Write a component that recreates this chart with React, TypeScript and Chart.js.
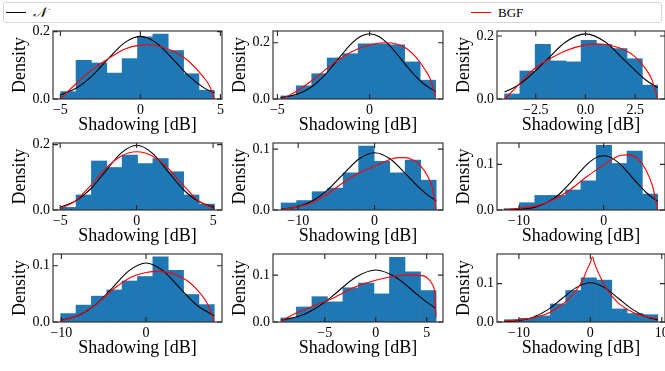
import React, { useEffect, useRef } from "react";
import { Chart, registerables } from "chart.js";
Chart.register(...registerables);

// ---------- data ----------
// Panel 1
const p1Edges = [-4.98, -4.02, -3.06, -2.1, -1.14, -0.18, 0.78, 1.74, 2.7, 3.66, 4.62];
const p1Hist = [0.022, 0.115, 0.107, 0.077, 0.12, 0.185, 0.193, 0.144, 0.075, 0.026];
const p1NormX = [-4.98, -4, -3, -2, -1, 0, 1, 2, 3, 4, 4.62];
const p1NormY = [0.0124, 0.0324, 0.0696, 0.1202, 0.1668, 0.186, 0.1668, 0.1202, 0.0696, 0.0324, 0.0181];
const p1BgfX = [-4.98, -4.5, -4, -3, -2, -1, 0, 0.5, 1, 2, 3, 4, 4.35, 4.62];
const p1BgfY = [0, 0.024, 0.046, 0.088, 0.12, 0.148, 0.16, 0.161, 0.158, 0.143, 0.113, 0.062, 0.036, 0];
const p1XTicks = [-5, 0, 5];
const p1XLabels = ["−5", "0", "5"];

// Panel 2
const p2Edges = [-4.82, -3.98, -3.14, -2.3, -1.46, -0.62, 0.22, 1.06, 1.9, 2.74, 3.58];
const p2Hist = [0.011, 0.047, 0.09, 0.146, 0.161, 0.196, 0.196, 0.193, 0.132, 0.067];
const p2NormX = [-4.82, -4, -3.5, -3, -2.5, -2, -1.5, -1, -0.5, 0, 0.5, 1, 1.5, 2, 2.5, 3, 3.58];
const p2NormY = [0.0046, 0.0155, 0.0293, 0.0507, 0.0807, 0.118, 0.1586, 0.196, 0.2224, 0.232, 0.2224, 0.196, 0.1586, 0.118, 0.0807, 0.0507, 0.0266];
const p2BgfX = [-4.82, -4.4, -4, -3, -2, -1, 0, 0.8, 1.5, 2, 2.5, 3, 3.3, 3.58];
const p2BgfY = [0, 0.012, 0.026, 0.072, 0.125, 0.167, 0.192, 0.2, 0.195, 0.18, 0.15, 0.105, 0.07, 0.008];
const p2XTicks = [-5, 0];
const p2XLabels = ["−5", "0"];

// Panel 3
const p3Edges = [-4.07, -3.3, -2.53, -1.76, -0.99, -0.22, 0.55, 1.32, 2.09, 2.86, 3.63];
const p3Hist = [0.016, 0.089, 0.174, 0.121, 0.118, 0.186, 0.174, 0.16, 0.128, 0.044];
const p3NormX = [-4.07, -3.5, -3, -2, -1, 0, 1, 2, 3, 3.63];
const p3NormY = [0.0224, 0.04, 0.0619, 0.121, 0.181, 0.207, 0.181, 0.121, 0.0619, 0.0353];
const p3BgfX = [-4.07, -3.5, -3, -2.5, -2, -1, 0, 0.5, 1, 2, 2.5, 3, 3.35, 3.63];
const p3BgfY = [0, 0.036, 0.07, 0.1, 0.12, 0.153, 0.172, 0.175, 0.173, 0.155, 0.134, 0.098, 0.06, 0];
const p3XTicks = [-2.5, 0, 2.5];
const p3XLabels = ["−2.5", "0.0", "2.5"];

// Panel 4
const p4Edges = [-4.97, -3.96, -2.96, -1.95, -0.95, 0.06, 1.06, 2.07, 3.07, 4.08, 5.08];
const p4Hist = [0.008, 0.046, 0.15, 0.13, 0.168, 0.142, 0.157, 0.117, 0.046, 0.018];
const p4NormX = [-4.97, -4, -3, -2, -1, 0, 1, 2, 3, 4, 5.08];
const p4NormY = [0.0093, 0.0273, 0.065, 0.1207, 0.175, 0.198, 0.175, 0.1207, 0.065, 0.0273, 0.0082];
const p4BgfX = [-4.97, -4, -3, -2, -1, 0, 1, 2, 3, 4, 5.08];
const p4BgfY = [0.004, 0.028, 0.075, 0.128, 0.165, 0.178, 0.166, 0.13, 0.078, 0.03, 0.004];
const p4XTicks = [-5, 0, 5];
const p4XLabels = ["−5", "0", "5"];

// Panel 5
const p5Edges = [-12.24, -10.21, -8.18, -6.15, -4.12, -2.09, -0.06, 1.97, 4.0, 6.03, 8.06];
const p5Hist = [0.0116, 0.0155, 0.03, 0.036, 0.061, 0.105, 0.08, 0.061, 0.082, 0.049];
const p5NormX = [-12.24, -11, -10, -8, -6, -4, -2, 0, 2, 4, 6, 7, 8.06];
const p5NormY = [0.0015, 0.0033, 0.0058, 0.0159, 0.0346, 0.0603, 0.0841, 0.094, 0.0841, 0.0603, 0.0346, 0.0241, 0.0154];
const p5BgfX = [-12.24, -10, -8, -6, -4, -2, 0, 2, 3, 4, 5, 6, 7, 7.6, 8.06];
const p5BgfY = [0.001, 0.0055, 0.0127, 0.0276, 0.046, 0.061, 0.072, 0.083, 0.086, 0.086, 0.082, 0.073, 0.054, 0.035, 0];
const p5XTicks = [-10, 0];
const p5XLabels = ["−10", "0"];

// Panel 6
const p6Edges = [-11.76, -9.95, -8.13, -6.32, -4.5, -2.69, -0.87, 0.94, 2.76, 4.57, 6.39];
const p6Hist = [0.003, 0.016, 0.032, 0.032, 0.044, 0.064, 0.142, 0.102, 0.129, 0.035];
const p6NormX = [-11.76, -10, -8, -6, -5, -4, -3, -2, -1, 0, 1, 2, 3, 4, 5, 6, 6.39];
const p6NormY = [0.0003, 0.0014, 0.0068, 0.0239, 0.039, 0.0583, 0.0796, 0.0995, 0.1138, 0.119, 0.1138, 0.0995, 0.0796, 0.0583, 0.039, 0.0239, 0.0192];
const p6BgfX = [-11.76, -10, -8, -6, -4, -2, 0, 1, 2, 3, 4, 5, 5.8, 6.39];
const p6BgfY = [0, 0.004, 0.009, 0.022, 0.044, 0.073, 0.099, 0.111, 0.12, 0.121, 0.113, 0.088, 0.051, 0];
const p6XTicks = [-10, 0];
const p6XLabels = ["−10", "0"];

// Panel 7
const p7Edges = [-10.08, -8.27, -6.45, -4.64, -2.82, -1.01, 0.81, 2.62, 4.44, 6.25, 8.07];
const p7Hist = [0.015, 0.03, 0.046, 0.057, 0.073, 0.081, 0.116, 0.092, 0.049, 0.031];
const p7NormX = [-10.08, -8, -6, -4, -2, 0, 2, 4, 6, 8.07];
const p7NormY = [0.0031, 0.0115, 0.0302, 0.0604, 0.0914, 0.105, 0.0914, 0.0604, 0.0302, 0.011];
const p7BgfX = [-10.08, -8, -6, -4, -2, 0, 1.5, 3, 4, 5, 6, 7, 7.6, 8.07];
const p7BgfY = [0.002, 0.012, 0.03, 0.057, 0.078, 0.088, 0.09, 0.087, 0.081, 0.072, 0.058, 0.039, 0.021, 0];
const p7XTicks = [-10, 0];
const p7XLabels = ["−10", "0"];

// Panel 8
const p8Edges = [-9.31, -7.79, -6.26, -4.74, -3.22, -1.7, -0.17, 1.35, 2.87, 4.4, 5.92];
const p8Hist = [0.0087, 0.032, 0.054, 0.043, 0.073, 0.083, 0.06, 0.138, 0.107, 0.067];
const p8NormX = [-9.31, -8, -7, -6, -5, -4, -2, 0, 2, 4, 5, 5.92];
const p8NormY = [0.0039, 0.0094, 0.0167, 0.0276, 0.0423, 0.0598, 0.0951, 0.111, 0.0951, 0.0598, 0.0423, 0.029];
const p8BgfX = [-9.31, -8, -6, -4, -2, 0, 2, 3, 4, 5, 5.5, 5.8, 5.92];
const p8BgfY = [0.0015, 0.017, 0.035, 0.053, 0.075, 0.089, 0.098, 0.1, 0.1, 0.095, 0.082, 0.06, 0.01];
const p8XTicks = [-5, 0, 5];
const p8XLabels = ["−5", "0", "5"];

// Panel 9
const p9Edges = [-12.05, -9.9, -7.75, -5.6, -3.45, -1.3, 0.85, 3.0, 5.15, 7.3, 9.44];
const p9Hist = [0.006, 0.0097, 0.016, 0.047, 0.082, 0.115, 0.109, 0.034, 0.022, 0.019];
const p9NormX = [-12.05, -10, -8, -6, -4, -2, 0, 2, 4, 6, 8, 9.44];
const p9NormY = [0.0009, 0.0039, 0.0126, 0.0315, 0.0605, 0.0895, 0.102, 0.0895, 0.0605, 0.0315, 0.0126, 0.0055];
const p9BgfX = [-12.05, -10, -8, -6, -4, -3, -2, -1, -0.5, 0, 0.3, 0.6, 1, 1.5, 2, 3, 4, 6, 8, 9.44];
const p9BgfY = [0.003, 0.0055, 0.011, 0.022, 0.045, 0.06, 0.082, 0.112, 0.135, 0.155, 0.169, 0.152, 0.133, 0.113, 0.095, 0.068, 0.048, 0.025, 0.013, 0.009];
const p9XTicks = [-10, 0, 10];
const p9XLabels = ["−10", "0", "10"];

// axis limits and y ticks
const xLimits: [number, number][] = [
  [-5.46, 5.1], [-5.24, 3.98], [-4.45, 4.0],
  [-5.47, 5.58], [-13.3, 8.95], [-12.6, 7.25],
  [-10.99, 8.98], [-10.08, 6.6], [-13.07, 10.45],
];
const yMaxes = [0.202, 0.242, 0.216, 0.205, 0.11, 0.147, 0.121, 0.145, 0.177];
const yTicksWide = [0, 0.2];
const yLabelsWide = ["0.0", "0.2"];
const yTicksNarrow = [0, 0.1];
const yLabelsNarrow = ["0.0", "0.1"];

const xTitle = "Shadowing [dB]";
const yTitle = "Density";
const legendNormal = "𝒩";
const legendBgf = "BGF";

// ---------- layout ----------
const FONT = "'Liberation Serif', 'DejaVu Serif', serif";
const COLS = [
  { left: 53, right: 222 },
  { left: 273, right: 443 },
  { left: 497, right: 665 },
];
const ROWS = [
  { top: 31, bottom: 99 },
  { top: 143, bottom: 210 },
  { top: 254, bottom: 322 },
];
const Y_AREA = 45;
const PAD_TOP = 10;
const X_AREA = 40;
const PAD_RIGHT = 14;
const TICK = 5;

type Panel = {
  edges: number[]; hist: number[];
  nx: number[]; ny: number[]; bx: number[]; by: number[];
  xt: number[]; xl: string[]; yt: number[]; yl: string[];
  xlim: [number, number]; ymax: number;
};

const raw = [
  [p1Edges, p1Hist, p1NormX, p1NormY, p1BgfX, p1BgfY, p1XTicks, p1XLabels],
  [p2Edges, p2Hist, p2NormX, p2NormY, p2BgfX, p2BgfY, p2XTicks, p2XLabels],
  [p3Edges, p3Hist, p3NormX, p3NormY, p3BgfX, p3BgfY, p3XTicks, p3XLabels],
  [p4Edges, p4Hist, p4NormX, p4NormY, p4BgfX, p4BgfY, p4XTicks, p4XLabels],
  [p5Edges, p5Hist, p5NormX, p5NormY, p5BgfX, p5BgfY, p5XTicks, p5XLabels],
  [p6Edges, p6Hist, p6NormX, p6NormY, p6BgfX, p6BgfY, p6XTicks, p6XLabels],
  [p7Edges, p7Hist, p7NormX, p7NormY, p7BgfX, p7BgfY, p7XTicks, p7XLabels],
  [p8Edges, p8Hist, p8NormX, p8NormY, p8BgfX, p8BgfY, p8XTicks, p8XLabels],
  [p9Edges, p9Hist, p9NormX, p9NormY, p9BgfX, p9BgfY, p9XTicks, p9XLabels],
] as any[];

const panels: Panel[] = raw.map((r, i) => {
  const wide = yMaxes[i] > 0.19;
  return {
    edges: r[0], hist: r[1], nx: r[2], ny: r[3], bx: r[4], by: r[5],
    xt: r[6], xl: r[7],
    yt: wide ? yTicksWide : yTicksNarrow,
    yl: wide ? yLabelsWide : yLabelsNarrow,
    xlim: xLimits[i], ymax: yMaxes[i],
  };
});

const framePlugin = {
  id: "frame",
  afterDatasetsDraw(chart: any) {
    const { ctx, chartArea: a, scales } = chart;
    const xs = scales.x, ys = scales.y;
    ctx.save();
    ctx.strokeStyle = "#262626";
    ctx.lineWidth = 1.1;
    ctx.strokeRect(a.left, a.top, a.right - a.left, a.bottom - a.top);
    ctx.beginPath();
    xs.ticks.forEach((t: any) => {
      const px = xs.getPixelForValue(t.value);
      ctx.moveTo(px, a.bottom); ctx.lineTo(px, a.bottom - TICK);
      ctx.moveTo(px, a.top); ctx.lineTo(px, a.top + TICK);
    });
    ys.ticks.forEach((t: any) => {
      const py = ys.getPixelForValue(t.value);
      ctx.moveTo(a.left, py); ctx.lineTo(a.left + TICK, py);
      ctx.moveTo(a.right, py); ctx.lineTo(a.right - TICK, py);
    });
    ctx.stroke();
    ctx.restore();
  },
};

function PanelChart({ p, col, row }: { p: Panel; col: number; row: number }) {
  const ref = useRef<HTMLCanvasElement>(null);
  const c = COLS[col], r = ROWS[row];
  const w = c.right - c.left + Y_AREA + PAD_RIGHT;
  const h = r.bottom - r.top + PAD_TOP + X_AREA;

  useEffect(() => {
    if (!ref.current) return;
    const centers = p.hist.map((_, i) => (p.edges[i] + p.edges[i + 1]) / 2);
    const chart = new Chart(ref.current, {
      type: "bar",
      data: {
        datasets: [
          {
            type: "line",
            data: p.bx.map((x, i) => ({ x, y: p.by[i] })),
            borderColor: "#ff0000",
            borderWidth: 1.1,
            pointRadius: 0,
            cubicInterpolationMode: "monotone",
            order: 0,
          } as any,
          {
            type: "line",
            data: p.nx.map((x, i) => ({ x, y: p.ny[i] })),
            borderColor: "#000000",
            borderWidth: 1.1,
            pointRadius: 0,
            cubicInterpolationMode: "monotone",
            order: 1,
          } as any,
          {
            type: "bar",
            data: centers.map((x, i) => ({ x, y: p.hist[i] })),
            backgroundColor: "#1f77b4",
            borderWidth: 0,
            barPercentage: 1,
            categoryPercentage: 1,
            order: 2,
          } as any,
        ],
      },
      options: {
        responsive: false,
        maintainAspectRatio: false,
        animation: false,
        layout: { padding: { top: PAD_TOP, right: PAD_RIGHT, left: 0, bottom: 0 } },
        plugins: { legend: { display: false }, tooltip: { enabled: false } },
        scales: {
          x: {
            type: "linear",
            min: p.xlim[0],
            max: p.xlim[1],
            offset: false,
            grid: { display: false, offset: false, drawTicks: false },
            border: { display: false },
            afterBuildTicks: (s: any) => { s.ticks = p.xt.map((v) => ({ value: v })); },
            afterFit: (s: any) => { s.height = X_AREA; s.paddingLeft = 0; s.paddingRight = 0; },
            ticks: {
              autoSkip: false, maxRotation: 0, padding: 3, color: "#000",
              font: { family: FONT, size: 14 },
              callback: (_v: any, i: number) => p.xl[i],
            },
            title: {
              display: true, text: xTitle, color: "#000",
              font: { family: FONT, size: 18 }, padding: { top: 0, bottom: 3 },
            },
          } as any,
          y: {
            type: "linear",
            min: 0,
            max: p.ymax,
            grid: { display: false, drawTicks: false },
            border: { display: false },
            afterBuildTicks: (s: any) => { s.ticks = p.yt.map((v) => ({ value: v })); },
            afterFit: (s: any) => { s.width = Y_AREA; s.paddingTop = 0; s.paddingBottom = 0; },
            ticks: {
              autoSkip: false, padding: 3, color: "#000",
              font: { family: FONT, size: 14 },
              callback: (_v: any, i: number) => p.yl[i],
            },
            title: {
              display: true, text: yTitle, color: "#000",
              font: { family: FONT, size: 18 }, padding: { top: 1, bottom: 0 },
            },
          } as any,
        },
      },
      plugins: [framePlugin],
    });
    return () => chart.destroy();
  }, []);

  return (
    <canvas
      ref={ref}
      width={w}
      height={h}
      style={{ position: "absolute", left: c.left - Y_AREA, top: r.top - PAD_TOP, width: w, height: h }}
    />
  );
}

export default function App() {
  return (
    <div style={{ position: "absolute", left: 0, top: 0, width: 665, height: 371, overflow: "hidden", background: "#fff" }}>
      {panels.map((p, i) => (
        <PanelChart key={i} p={p} col={i % 3} row={Math.floor(i / 3)} />
      ))}
      <div
        style={{
          position: "absolute", left: 3, top: 2, width: 659, height: 21,
          border: "1px solid #d6d6d6", borderRadius: 3, background: "#fff",
          boxSizing: "border-box", fontFamily: FONT, fontSize: 13, color: "#000",
        }}
      >
        <div style={{ position: "absolute", left: 2, top: 9, width: 20, borderTop: "1.2px solid #000" }} />
        <span style={{ position: "absolute", left: 29, top: 1, fontStyle: "italic", fontSize: 14, lineHeight: "17px" }}>{legendNormal}</span>
        <div style={{ position: "absolute", left: 467, top: 9, width: 20, borderTop: "1.2px solid #ff0000" }} />
        <span style={{ position: "absolute", left: 494, top: 1, lineHeight: "17px" }}>{legendBgf}</span>
      </div>
    </div>
  );
}
